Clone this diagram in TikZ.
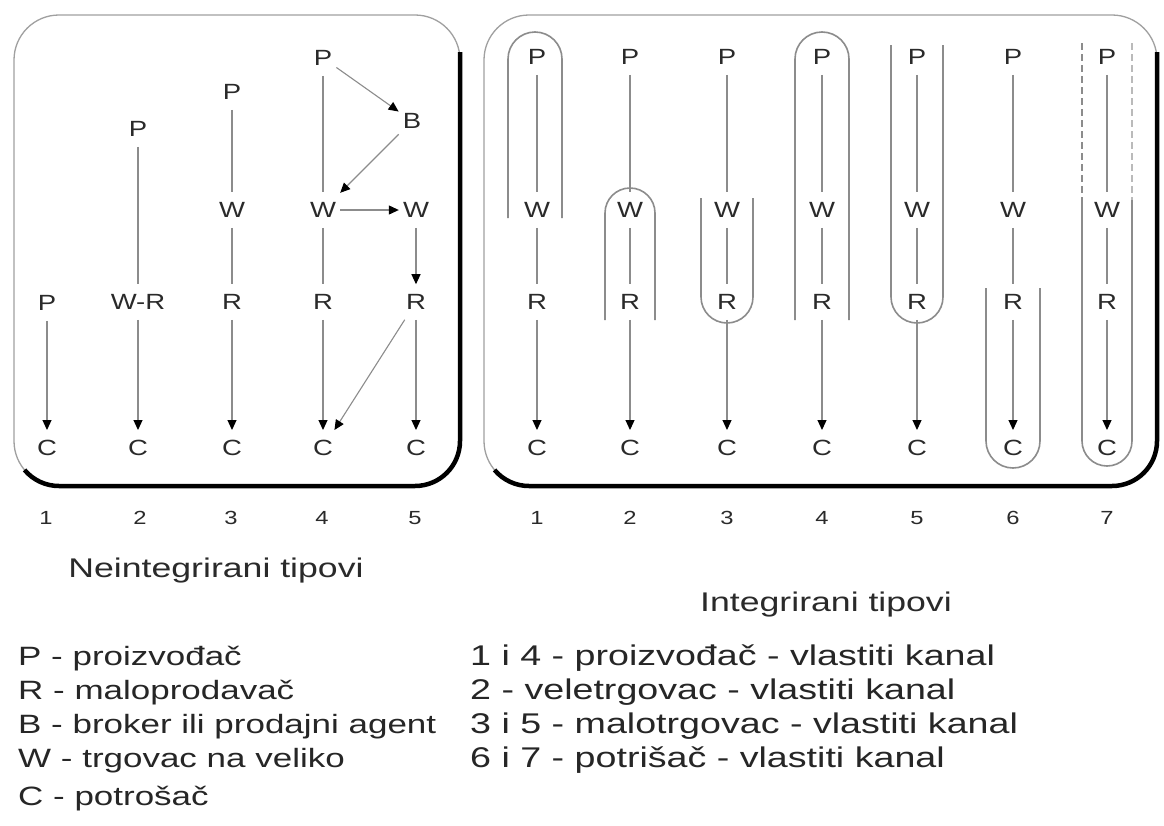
\documentclass[tikz,border=0pt]{standalone}
\usepackage{fontspec}
\setmainfont{Liberation Sans}[FakeStretch=1.25]
\newfontfamily\legfont{Liberation Sans}[FakeStretch=1.32]
\usetikzlibrary{arrows.meta}
\definecolor{ln}{HTML}{8C8C8C}
\definecolor{tx}{HTML}{2A2A2A}
\definecolor{fr}{HTML}{A0A0A0}
\begin{document}
\begin{tikzpicture}[x=1pt,y=-1pt,
  lt/.style={text=tx, font=\fontsize{22}{24}\selectfont, inner xsep=4pt, inner ysep=10pt},
  conn/.style={draw=ln, line width=1.1pt},
  arr/.style={conn, -{Triangle[length=10pt,width=9pt,color=black]}},
  encl/.style={draw=ln, line width=1.6pt},
  frame/.style={draw=fr, line width=1.3pt, rounded corners=45pt},
  shadow/.style={draw=black, line width=4.5pt},
  num/.style={text=tx, font=\fontsize{19}{22}\selectfont},
  ttl/.style={text=tx, font=\legfont\fontsize{27}{30}\selectfont},
  legl/.style={text=black!85, font=\legfont\fontsize{26.5}{30}\selectfont, anchor=base west, inner sep=0pt},
  legr/.style={text=black!85, font=\legfont\fontsize{28.5}{30}\selectfont, anchor=base west, inner sep=0pt}]
\useasboundingbox (0,0) rectangle (1164,825);
\fill[white] (0,0) rectangle (1164,825);

% frames
\draw[frame] (14,15) rectangle (460,486);
\draw[shadow] (460,52) -- (460,441) arc[start angle=0,end angle=90,radius=45] -- (59,486) arc[start angle=90,end angle=140,radius=45];
\draw[frame] (484,15) rectangle (1157,486);
\draw[shadow] (1157,52) -- (1157,441) arc[start angle=0,end angle=90,radius=45] -- (529,486) arc[start angle=90,end angle=140,radius=45];

% left (non-integrated) nodes
\node[lt] (l1p) at (47,303) {P};
\node[lt] (l1c) at (47,448) {C};
\node[lt] (l2p) at (138,129) {P};
\node[lt] (l2wr) at (138,302) {W-R};
\node[lt] (l2c) at (138,448) {C};
\node[lt] (l3p) at (232,92) {P};
\node[lt] (l3w) at (232,210) {W};
\node[lt] (l3r) at (232,302) {R};
\node[lt] (l3c) at (232,448) {C};
\node[lt] (l4p) at (323,58) {P};
\node[lt] (l4b) at (412,121) {B};
\node[lt] (l4w) at (323,210) {W};
\node[lt] (l4r) at (323,302) {R};
\node[lt] (l4c) at (323,448) {C};
\node[lt] (l5w) at (416,210) {W};
\node[lt] (l5r) at (416,302) {R};
\node[lt] (l5c) at (416,448) {C};

\draw[arr] (l1p) -- (l1c);
\draw[conn] (l2p) -- (l2wr);
\draw[arr] (l2wr) -- (l2c);
\draw[conn] (l3p) -- (l3w);
\draw[conn] (l3w) -- (l3r);
\draw[arr] (l3r) -- (l3c);
\draw[conn] (l4p) -- (l4w);
\draw[conn] (l4w) -- (l4r);
\draw[arr] (l4r) -- (l4c);
\draw[arr] (l4p) -- (l4b);
\draw[arr] (l4b) -- (l4w);
\draw[arr] (l4w) -- (l5w);
\draw[arr] (l5w) -- (l5r);
\draw[arr] (l5r) -- (l4c);
\draw[arr] (l5r) -- (l5c);

% right (integrated) nodes
\foreach \i/\x in {1/537,2/630,3/727,4/822,5/917,6/1013,7/1107}{
  \node[lt] (r\i p) at (\x,57) {P};
  \node[lt] (r\i w) at (\x,210) {W};
  \node[lt] (r\i r) at (\x,302) {R};
  \node[lt] (r\i c) at (\x,448) {C};
  \draw[conn] (r\i p) -- (r\i w);
  \draw[conn] (r\i w) -- (r\i r);
  \draw[arr] (r\i r) -- (r\i c);
}

% enclosures
\draw[encl] (508,218) -- (508,59) arc[start angle=180,end angle=360,radius=27] -- (562,218);
\draw[encl] (605,320) -- (605,213) arc[start angle=180,end angle=360,radius=25] -- (655,320);
\draw[encl] (701,198) -- (701,297) arc[start angle=180,end angle=0,radius=26] -- (753,198);
\draw[encl] (795,320) -- (795,59) arc[start angle=180,end angle=360,radius=27] -- (849,320);
\draw[encl] (891,45) -- (891,297) arc[start angle=180,end angle=0,radius=26] -- (943,45);
\draw[encl] (986,288) -- (986,441) arc[start angle=180,end angle=0,radius=27] -- (1040,288);
\draw[encl, dashed, dash pattern=on 7pt off 4pt] (1082,43) -- (1082,200);
\draw[encl, dashed, dash pattern=on 7pt off 4pt, draw=ln!60] (1132,43) -- (1132,200);
\draw[encl] (1082,200) -- (1082,441) arc[start angle=180,end angle=0,radius=25] -- (1132,200);

% numbers
\foreach \i/\x in {1/46,2/140,3/231,4/322,5/415}{
  \node[num] (nl\i) at (\x,518) {\i};
}
\foreach \i/\x in {1/537,2/630,3/727,4/822,5/917,6/1013,7/1107}{
  \node[num] (nr\i) at (\x,518) {\i};
}

% titles
\node[ttl] (t1) at (216,571) {Neintegrirani tipovi};
\node[ttl] (t2) at (826,605) {Integrirani tipovi};

% legend
\node[legl] (g1) at (18,665) {P - proizvođač};
\node[legl] (g2) at (18,699) {R - maloprodavač};
\node[legl] (g3) at (18,733) {B - broker ili prodajni agent};
\node[legl] (g4) at (18,767) {W - trgovac na veliko};
\node[legl] (g5) at (18,805) {C - potrošač};
\node[legr] (h1) at (470,665) {1 i 4 - proizvođač - vlastiti kanal};
\node[legr] (h2) at (470,699) {2 - veletrgovac - vlastiti kanal};
\node[legr] (h3) at (470,733) {3 i 5 - malotrgovac - vlastiti kanal};
\node[legr] (h4) at (470,767) {6 i 7 - potrišač - vlastiti kanal};
\end{tikzpicture}
\end{document}
